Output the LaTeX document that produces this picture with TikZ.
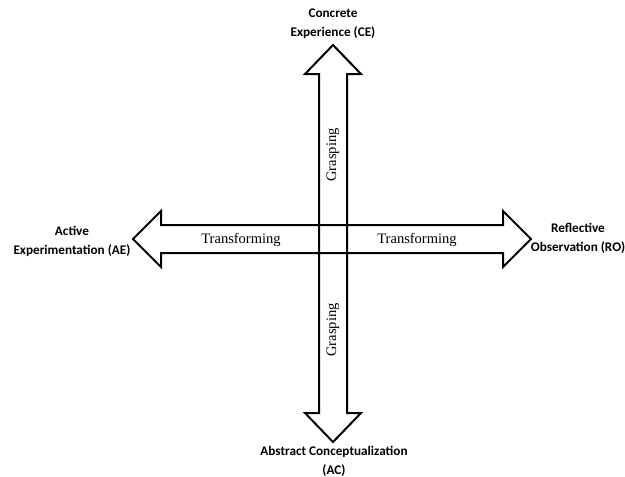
\documentclass[tikz,border=0pt]{standalone}
\usepackage{fontspec}
\setmainfont{Liberation Serif}
\newfontfamily\polefont{Carlito}
\usepackage{tikz}

\begin{document}
\begin{tikzpicture}[x=1pt, y=-1pt,
    pole/.style={align=center, font=\polefont\bfseries\fontsize{13.2}{19}\selectfont, inner sep=0pt},
    axislabel/.style={font=\fontsize{14.5}{16}\selectfont, inner sep=0pt},
    outline/.style={draw=black, line width=2pt, line join=miter}]

\useasboundingbox (0,0) rectangle (625,477);

% grasping axis (vertical double arrow)
\draw[outline] (333,45) -- (361,74) -- (347,74) -- (347,413) -- (361,413) -- (333,442)
    -- (305,413) -- (319,413) -- (319,74) -- (305,74) -- cycle;

% transforming axis (horizontal double arrow)
\draw[outline] (133,239) -- (161,211) -- (161,225) -- (503,225) -- (503,211) -- (531,239)
    -- (503,267) -- (503,253) -- (161,253) -- (161,267) -- cycle;

\node[pole] (ce) at (333,24) {Concrete\\Experience (CE)};
\node[pole] (ae) at (72,241) {Active\\Experimentation (AE)};
\node[pole] (ro) at (578,238) {Reflective\\Observation (RO)};
\node[pole] (ac) at (334,461) {Abstract Conceptualization\\(AC)};

\node[axislabel, rotate=90] (graspup) at (333,155) {Grasping};
\node[axislabel, rotate=90] (graspdown) at (333,330) {Grasping};
\node[axislabel] (transleft) at (241,240) {Transforming};
\node[axislabel] (transright) at (417,240) {Transforming};

\end{tikzpicture}
\end{document}
